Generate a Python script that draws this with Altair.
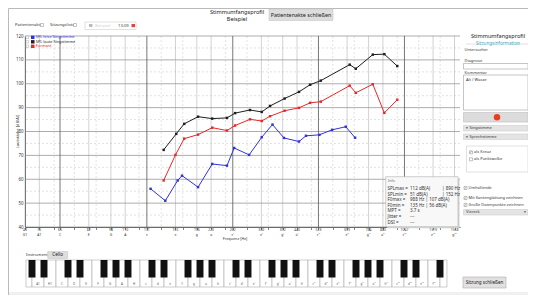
import altair as alt
import pandas as pd

FONT = "Noto Sans"
SYM = "DejaVu Sans"

# ---------------- data ----------------
SERIES = ["SPL leise Singstimme", "SPL laute Singstimme", "Formant"]
COLORS = ["#3232dc", "#1e1e1e", "#e62828"]

LEISE_F = [135, 152, 168, 174, 198, 222, 250, 265, 299, 331, 361, 396, 447, 473, 527, 584, 652, 703]
LEISE_DB = [56, 51, 59.5, 61.5, 56.7, 66.4, 65.7, 73.1, 70.2, 77.6, 82.9, 77.3, 75.8, 78.2, 78.6, 80.7, 82.0, 77.4]

LAUT_F = [150, 166, 177, 198, 222, 250, 267, 301, 331, 354, 398, 447, 489, 533, 673, 707, 811, 890, 988]
LAUT_DB = [72.3, 79.0, 83.2, 86.2, 85.4, 85.7, 87.7, 89.0, 88.2, 90.7, 93.8, 96.6, 99.6, 101.3, 108.0, 106.3, 112.2, 112.4, 107.4]

FORM_F = [150, 165, 177, 198, 222, 250, 267, 301, 331, 354, 398, 447, 489, 533, 673, 707, 811, 890, 988]
FORM_DB = [59.5, 70.2, 77.0, 78.7, 81.6, 80.4, 82.5, 85.1, 84.4, 86.4, 88.7, 89.9, 92.0, 92.5, 99.2, 96.2, 99.8, 87.8, 93.3]

LABEL_FREQ = [49, 55, 65, 82, 98, 110, 131, 165, 196, 220, 262, 330, 392, 440, 523, 659, 784, 880, 1047, 1319, 1568]
LABEL_NOTE = ["G1", "A1", "C", "E", "G", "A", "c", "e", "g", "a", "c'", "e'", "g'", "a'",
              "c''", "e''", "g''", "a''", "c'''", "e'''", "g'''"]
C_FREQ = [65, 131, 262, 523, 1047]
MINOR_FREQ = [62, 73, 87, 123, 147, 175, 247, 294, 349, 494, 587, 698, 988, 1175, 1397]
DB_MAJOR = [40, 50, 60, 70, 80, 90, 100, 110, 120]
DB_MINOR = [45, 55, 65, 75, 85, 95, 105, 115]

WHITE_KEYS = ["G1", "A1", "H1", "C", "D", "E", "F", "G", "A", "H",
              "c", "d", "e", "f", "g", "a", "h",
              "c'", "d'", "e'", "f'", "g'", "a'", "h'",
              "c''", "d''", "e''", "f''", "g''", "a''", "h''",
              "c'''", "d'''", "e'''", "f'''", "g'''"]

INFO_LABELS = ["SPLmax =", "SPLmin =", "F0max =", "F0min =", "MPT =", "Jitter =", "DSI ="]
INFO_VALUES = ["112 dB(A)", "51 dB(A)", "988 Hz | 107 dB(A)", "135 Hz | 56 dB(A)", "3.7 s", "---", "---"]
INFO_EXTRA = ["| 890 Hz", "| 152 Hz", "", "", "", "", ""]

# ---------------- tables ----------------
rows = []
for name, fs, ds in zip(SERIES, [LEISE_F, LAUT_F, FORM_F], [LEISE_DB, LAUT_DB, FORM_DB]):
    for i, (f, d) in enumerate(zip(fs, ds)):
        rows.append({"series": name, "freq": f, "db": d, "i": i})
lines_df = pd.DataFrame(rows)

lab_df = pd.DataFrame({"freq": LABEL_FREQ, "note": LABEL_NOTE, "flab": [str(v) for v in LABEL_FREQ]})
light_df = lab_df[~lab_df["freq"].isin(C_FREQ)]
c_df = pd.DataFrame({"freq": C_FREQ})
minor_df = pd.DataFrame({"freq": MINOR_FREQ})
major_df = pd.DataFrame({"db": DB_MAJOR})
minorh_df = pd.DataFrame({"db": DB_MINOR})

W, H = 435, 191

XAXIS = alt.Axis(values=LABEL_FREQ + MINOR_FREQ, labels=False, tickSize=2.5, tickColor="#333",
                 tickWidth=0.6, domainColor="#333", domainWidth=0.8, grid=False, title=None)
YAXIS = alt.Axis(values=DB_MAJOR, labelFontSize=4.4, labelFont=FONT, labelColor="#333", ticks=False,
                 labelPadding=2, domainColor="#333", domainWidth=0.8, grid=False, title=None)
XS = alt.Scale(type="log", domain=[49, 1639], nice=False, zero=False)
YS = alt.Scale(domain=[40, 120], nice=False, zero=False)
X = alt.X("freq:Q", scale=XS, axis=XAXIS)
Y = alt.Y("db:Q", scale=YS, axis=YAXIS)
CSC = alt.Color("series:N", scale=alt.Scale(domain=SERIES, range=COLORS), legend=None)

main = alt.layer(
    alt.Chart(minorh_df).mark_rule(color="#cfcfcf", strokeDash=[2, 2], strokeWidth=0.6).encode(y=Y),
    alt.Chart(minor_df).mark_rule(color="#d0d0d0", strokeDash=[2, 2], strokeWidth=0.6).encode(x=X),
    alt.Chart(light_df).mark_rule(color="#b4b4b4", strokeWidth=0.6).encode(x=X),
    alt.Chart(major_df).mark_rule(color="#8a8a8a", strokeWidth=0.7).encode(y=Y),
    alt.Chart(c_df).mark_rule(color="#555555", strokeWidth=0.8).encode(x=X),
    alt.Chart(lines_df).mark_line(strokeWidth=1).encode(x=X, y=Y, color=CSC, detail="series:N", order="i:Q"),
    alt.Chart(lines_df).mark_point(shape="square", filled=True, size=6, opacity=1).encode(x=X, y=Y, color=CSC),
    alt.Chart(lab_df).mark_text(fontSize=3.4, font=FONT, color="#333", baseline="middle").encode(
        x=X, y=alt.value(H + 3.4), text="flab:N"),
    alt.Chart(lab_df).mark_text(fontSize=3.4, font=FONT, color="#333", baseline="middle").encode(
        x=X, y=alt.value(H + 7.6), text="note:N"),
)

# ---------------- piano ----------------
white_rows, black_rows, lab_rows = [], [], []
for i, n in enumerate(WHITE_KEYS):
    k0 = max(i, 0.5)
    k1 = min(i + 1, 35.58)
    white_rows.append({"k0": k0, "k1": k1})
    if 0 < i < len(WHITE_KEYS) - 1:
        lab_rows.append({"kc": i + 0.5, "name": n})
    if n[0] in "CDFGAcdfga" and i + 1 < 36:
        b = i + 1
        black_rows.append({"k0": b - 0.29, "k1": b + 0.29})
KS = alt.Scale(domain=[5 / 12, 440 / 12], nice=False, zero=False)
piano = alt.layer(
    alt.Chart(pd.DataFrame(white_rows)).mark_rect(fill="white", stroke="#9a9a9a", strokeWidth=0.5).encode(
        x=alt.X("k0:Q", scale=KS, axis=None), x2="k1:Q", y=alt.value(224), y2=alt.value(251)),
    alt.Chart(pd.DataFrame(black_rows)).mark_rect(fill="#111111").encode(
        x=alt.X("k0:Q", scale=KS, axis=None), x2="k1:Q", y=alt.value(224), y2=alt.value(241.5)),
    alt.Chart(pd.DataFrame(lab_rows)).mark_text(fontSize=3.0, font=FONT, color="#555").encode(
        x=alt.X("kc:Q", scale=KS, axis=None), y=alt.value(247.5), text="name:N"),
)

# ---------------- chrome helpers ----------------
ONE = pd.DataFrame({"a": [0]})


def T(s, x, y, size=4.4, color="#333", align="left", weight="normal", angle=None, font=FONT):
    kw = dict(text=s, align=align, baseline="middle", fontSize=size, color=color, font=font, fontWeight=weight)
    if angle is not None:
        kw["angle"] = angle
    return alt.Chart(ONE).mark_text(**kw).encode(x=alt.value(x), y=alt.value(y))


def R(x, x2, y, y2, fill="white", stroke="#aaaaaa", sw=0.6):
    kw = dict(fill=fill, strokeWidth=sw)
    if stroke:
        kw["stroke"] = stroke
    else:
        kw["strokeWidth"] = 0
    return alt.Chart(ONE).mark_rect(**kw).encode(x=alt.value(x), x2=alt.value(x2), y=alt.value(y), y2=alt.value(y2))


def L(x, x2, y, color="#cccccc"):
    return alt.Chart(ONE).mark_rule(color=color, strokeWidth=0.6).encode(x=alt.value(x), x2=alt.value(x2), y=alt.value(y))


def CB(x, y, checked=True):
    out = [R(x, x + 3, y - 1.5, y + 1.5, fill="white", stroke="#888", sw=0.5)]
    if checked:
        out.append(T("\u2713", x + 1.5, y, size=3.4, color="#333", align="center", font=SYM))
    return out


back = [
    R(-16.5, 503.5, 256, 270, fill="#f0f0f0", stroke=None),
    R(-16.5, 503.5, -27.5, 262, fill="none", stroke="#a8a8a8", sw=0.8),
]

top = [
    T("Stimmumfangsprofil", 212, -24.4, size=5.6, color="#222", align="center"),
    T("Beispiel", 212, -17.4, size=5.6, color="#222", align="center"),
    R(244, 308, -27, -15.5, fill="#dddddd", stroke="#c8c8c8"),
    T("Patientenakte schließen", 276, -21.3, size=5.4, color="#222", align="center"),
    T("Patientenakte", -10, -11, size=4.2),
    R(15.5, 18.5, -12.5, -9.5, fill="white", stroke="#888", sw=0.5),
    T("Sitzungsliste", 25, -11, size=4.2),
    R(48.5, 51.5, -12.5, -9.5, fill="white", stroke="#888", sw=0.5),
    R(60, 111, -14, -6.5, fill="white", stroke="#cccccc"),
    R(64, 67.5, -12, -9, fill="#bbbbbb", stroke=None),
    T("Beispiel", 70, -10.5, size=4.2, color="#d0d0d0"),
    T("13:09", 93, -10.5, size=4.2, color="#444"),
    R(106.5, 110, -12, -8.8, fill="#e0463a", stroke=None),
]

legend = []
for j, (name, col) in enumerate(zip(SERIES, COLORS)):
    yy = 1.3 + 4.5 * j
    legend += [
        R(1, 3.5, yy - 1.2, yy + 1.2, fill="white", stroke="#999", sw=0.4),
        R(6, 9.5, yy - 1.7, yy + 1.7, fill=col, stroke=None),
        T(name, 10.8, yy, size=3.9, color=col),
    ]

axis_titles = [
    T("Lautstärke [dB(A)]", -7.5, 95.5, size=4.0, align="center", angle=270),
    T("Frequenz [Hz]", 210, 203.0, size=3.8, align="center"),
]

info = [
    R(362.2, 434.5, 142.2, 192.2, fill="#d4d4d4", stroke=None),
    R(360.7, 433, 140.7, 190.7, fill="#f8f8f8", stroke="#b0b0b0"),
    T("Info", 363, 145, size=3.6, color="#666"),
]
for j, (a, b, c) in enumerate(zip(INFO_LABELS, INFO_VALUES, INFO_EXTRA)):
    yy = 153 + 5.6 * j
    info.append(T(a, 362.5, yy, size=4.5))
    info.append(T(b, 385, yy, size=4.5))
    if c:
        info.append(T(c, 417, yy, size=4.5))

right = [
    T("Stimmumfangsprofil", 473, 0, size=5.6, color="#222", align="center"),
    L(441, 454, 8), L(492, 503, 8),
    T("Sitzungsinformation", 473, 8, size=4.6, color="#3ba3b5", align="center"),
    T("Untersucher", 439.5, 13.5, size=4.0),
    T("Diagnose", 439.5, 25, size=4.0),
    R(438.5, 503, 27.5, 33, fill="white", stroke="#a0a0a0"),
    T("Kommentar", 439.5, 36.5, size=4.0),
    R(438.5, 503, 39, 74, fill="white", stroke="#a0a0a0"),
    T("Alt / Wasze", 441, 44, size=4.0),
    R(438.5, 503, 76.5, 86, fill="#dcdcdc", stroke="#bdbdbd"),
    alt.Chart(ONE).mark_circle(color="#e8401c", opacity=1, size=42).encode(x=alt.value(472), y=alt.value(81.2)),
    R(438.5, 503, 89.5, 95, fill="#e4e4e4", stroke="#cfcfcf"),
    T("\u25be", 442, 92.2, size=3.6, color="#333", align="center", font=SYM),
    T("Singstimme", 444.5, 92.2, size=4.0),
    R(438.5, 503, 98, 103.5, fill="#e4e4e4", stroke="#cfcfcf"),
    T("\u25be", 442, 100.7, size=3.6, color="#333", align="center", font=SYM),
    T("Sprechstimme", 444.5, 100.7, size=4.0),
    R(441.5, 503, 110, 136, fill="white", stroke="#cccccc"),
    T("als Kreuz", 449, 116.3, size=4.0),
    T("als Punktwolke", 449, 123.3, size=4.0),
    T("Umhüllende", 443.5, 152, size=4.0),
    T("Mit Kantenglättung zeichnen", 443.5, 162, size=4.0),
    T("Große Datenpunkte zeichnen", 443.5, 169, size=4.0),
    R(438.5, 503, 173.5, 179, fill="#e4e4e4", stroke="#cfcfcf"),
    T("Viereck", 441, 176.3, size=4.0),
    T("\u25be", 500, 176.3, size=3.6, color="#333", align="center", font=SYM),
]
right += CB(444.5, 116.3, True) + CB(444.5, 123.3, False)
right += CB(439, 152, True) + CB(439, 162, True) + CB(439, 169, True)

bottom = [
    T("Instrument:", 1, 218.7, size=4.1),
    R(22.7, 42.7, 215.5, 222.5, fill="#dddddd", stroke="#c8c8c8"),
    T("Cello", 32.7, 219, size=4.6, color="#222", align="center"),
    R(438, 481, 241, 252, fill="#e1e1e1", stroke="#adadad"),
    T("Sitzung schließen", 459.5, 246.5, size=4.6, color="#222", align="center"),
]

layers = back + top + [main, piano] + legend + axis_titles + info + right + bottom

chart = alt.layer(*layers).resolve_scale(x="independent").properties(
    width=W, height=H,
    padding={"left": 17, "top": 28, "right": 68, "bottom": 68},
    autosize=alt.AutoSizeParams(type="none"),
    background="white",
).configure_view(stroke=None)

chart.save("out.html", embed_options={"renderer": "svg", "actions": False})
